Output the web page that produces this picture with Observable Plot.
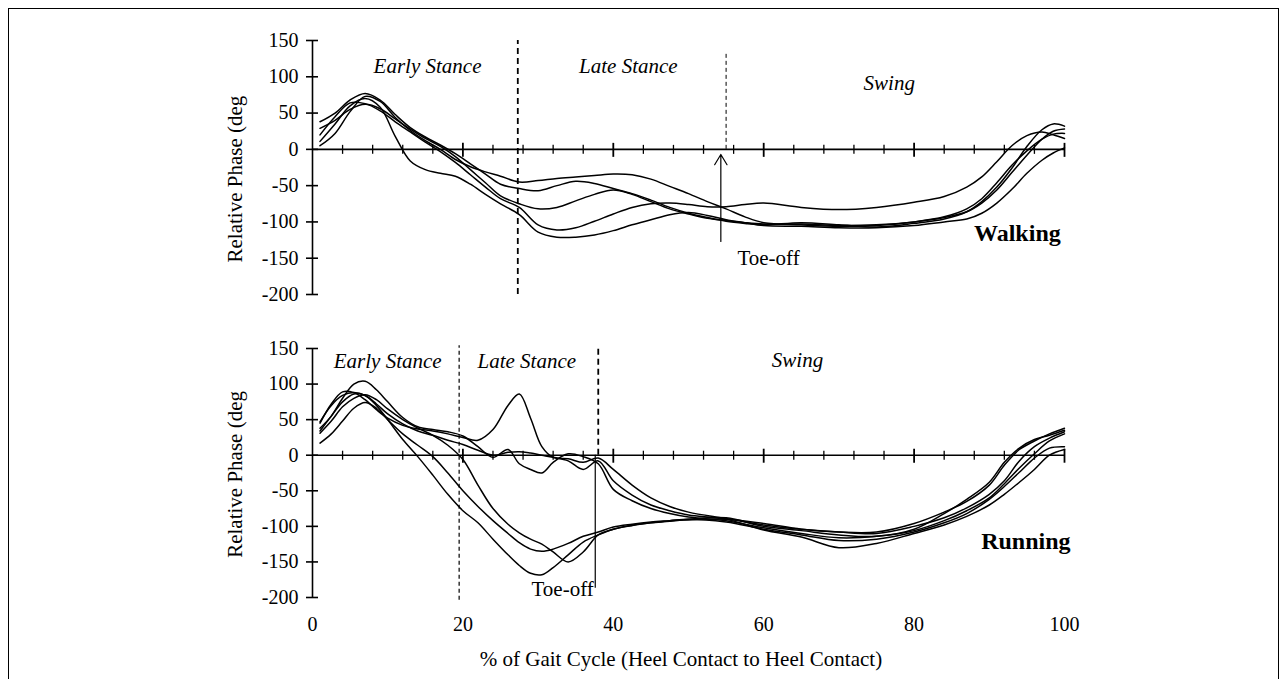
<!DOCTYPE html>
<html>
<head>
<meta charset="utf-8">
<script src="https://cdn.jsdelivr.net/npm/d3@7"></script>
<script src="https://cdn.jsdelivr.net/npm/@observablehq/plot@0.6"></script>
<style>
  html, body { margin: 0; padding: 0; background: #fff; }
  #page { position: relative; width: 1288px; height: 679px; overflow: hidden; }
  #frame { position: absolute; left: 8px; top: 8px; width: 1271px; height: 720px; border: 1.5px solid #000; box-sizing: border-box; }
  .panel { position: absolute; left: 0; }
</style>
</head>
<body>
<div id="page">
  <div id="frame"></div>
  <div id="walk" class="panel" style="top:0px"></div>
  <div id="run" class="panel" style="top:310px"></div>
</div>
<script>
// % of gait cycle at which each walking trial is sampled
const pctWalk = [1,3,5,7,9,11,13,15,17,19,21,23,25,27.5,30,32.5,35,37.5,40,42.5,45,47.5,50,52.5,55,57.5,60,65,70,75,80,84,87,89,91,93,95,97,98.5,100];

// Relative phase (deg), walking trials
const walkA = [5,22,52,73,66,44,26,12,0,-14,-24,-31,-37,-45,-43,-40,-38,-36,-34,-35,-41,-51,-61,-72,-82,-93,-101,-104,-106,-105,-100,-93,-82,-68,-46,-22,-2,14,21,22];
const walkB = [38,50,68,77,68,48,30,17,6,-6,-20,-34,-48,-54,-57,-50,-44,-47,-54,-61,-70,-80,-88,-94,-99,-102,-104,-101,-104,-107,-102,-96,-86,-72,-52,-26,4,27,35,32];
const walkC = [29,40,55,62,56,42,28,15,4,-10,-28,-46,-64,-75,-82,-80,-71,-62,-56,-62,-72,-82,-89,-95,-98,-101,-103,-103,-105,-104,-100,-94,-86,-74,-56,-32,-8,14,25,28];
const walkD = [20,45,64,63,53,38,24,10,-3,-18,-35,-52,-68,-80,-104,-111,-108,-99,-89,-80,-75,-74,-76,-79,-79,-76,-74,-80,-83,-80,-73,-65,-52,-38,-17,5,19,24,20,15];
const walkE = [11,35,60,70,58,18,-16,-28,-33,-37,-48,-62,-75,-90,-114,-121,-121,-118,-112,-104,-97,-90,-87,-91,-97,-101,-105,-106,-108,-108,-105,-100,-96,-88,-74,-55,-33,-15,-5,2];

// % of gait cycle at which each running trial is sampled
const pctRun = [1,2.5,4,5.5,7,8.5,10,12,14,16,18,20,22,24,26,27.5,29,30.5,32,34,36,38,40,42.5,45,47.5,50,55,60,65,70,75,80,84,87,90,92,94,96,98,100];

// Relative phase (deg), running trials
const runA = [45,72,89,88,78,64,52,42,37,34,30,25,21,36,70,86,52,12,-3,-5,-10,-4,-20,-42,-60,-72,-80,-89,-98,-104,-108,-110,-100,-88,-74,-55,-36,-8,12,24,33];
const runB = [38,55,80,100,104,92,75,53,40,36,33,27,12,-3,8,-12,-20,-25,-10,2,-2,-12,-48,-64,-75,-82,-87,-92,-102,-110,-116,-114,-106,-92,-78,-60,-40,-18,2,20,30];
const runC = [47,70,84,88,84,72,58,44,34,28,21,15,7,0,4,5,3,0,-3,-8,-20,-8,-36,-56,-70,-78,-84,-90,-105,-115,-130,-124,-110,-98,-86,-70,-55,-38,-20,0,8];
const runD = [34,55,75,86,84,70,50,22,-2,-28,-55,-78,-95,-118,-140,-155,-166,-168,-158,-140,-122,-112,-104,-99,-95,-93,-90,-88,-100,-106,-112,-114,-104,-82,-62,-38,-10,10,22,28,35];
const runE = [17,30,48,66,74,66,50,30,14,-2,-25,-50,-72,-92,-110,-123,-132,-135,-132,-124,-114,-108,-101,-97,-94,-92,-90,-94,-104,-112,-120,-118,-108,-95,-82,-62,-44,-24,-4,10,12];
const runF = [31,48,68,80,85,78,65,50,38,28,14,-6,-42,-75,-97,-109,-118,-125,-136,-150,-136,-112,-104,-98,-95,-92,-91,-90,-96,-104,-108,-108,-96,-80,-65,-42,-14,8,20,30,38];

// Axis ticks and labels
const yTicks = [150, 100, 50, 0, -50, -100, -150, -200];
const xTickLabels = [0, 20, 40, 60, 80, 100];
const minorTicks = [4,8,12,16,24,28,32,36,44,48,52,56,64,68,72,76,84,88,92,96];
const majorTicks = [20, 40, 60, 80, 100];
const yTitle = "Relative Phase (deg";
const xTitle = "% of Gait Cycle (Heel Contact to Heel Contact)";

// Phase boundaries (% of gait cycle)
const walkEarlyEnd = 27.3, walkToeOffDash = 55, walkToeOff = 54.3;
const runEarlyEnd = 19.5, runToeOffDash = 38, runToeOff = 37.6;

function toRows(pct, series) {
  return series.flatMap((ys, k) => ys.map((y, i) => ({trial: k, pct: pct[i], phase: y})));
}

const serif = '"Liberation Serif", "Times New Roman", Times, serif';

function gaitPanel({rows, height, marginTop, marginBottom, yTitleAt, extra}) {
  return Plot.plot({
    width: 1288,
    height,
    marginLeft: 312,
    marginRight: 224,
    marginTop,
    marginBottom,
    x: {domain: [0, 100], axis: null},
    y: {domain: [-200, 150], axis: null},
    style: {fontFamily: serif, fontSize: "21px", color: "#000", background: "transparent", overflow: "visible"},
    marks: [
      // axis lines
      Plot.ruleX([0], {y1: -200, y2: 150, stroke: "#000", strokeWidth: 1.6}),
      Plot.ruleY([0], {stroke: "#000", strokeWidth: 1.6}),
      // y ticks crossing the vertical axis
      Plot.ruleY(yTicks, {y: d => d, x1: () => 0, x2: () => 0, insetLeft: -6, insetRight: -6, stroke: "#000", strokeWidth: 1.6}),
      // x ticks on the zero line
      Plot.ruleX(minorTicks, {x: d => d, y1: () => 0, y2: () => 0, insetTop: -4, insetBottom: -5, stroke: "#000", strokeWidth: 1.3}),
      Plot.ruleX(majorTicks, {x: d => d, y1: () => 0, y2: () => 0, insetTop: -6, insetBottom: -8, stroke: "#000", strokeWidth: 1.8}),
      // y tick labels and axis title
      Plot.text(yTicks, {y: d => d, text: d => String(d), frameAnchor: "left", dx: -14, textAnchor: "end", fontSize: 20, fill: "#000"}),
      Plot.text([yTitle], {text: d => d, frameAnchor: "left", y: () => yTitleAt, dx: -77, rotate: -90, textAnchor: "middle", fontSize: 21, fill: "#000"}),
      ...extra,
      Plot.line(rows, {x: "pct", y: "phase", z: "trial", curve: "catmull-rom", stroke: "#000", strokeWidth: 1.5})
    ]
  });
}

const walkRows = toRows(pctWalk, [walkA, walkB, walkC, walkD, walkE]);
const runRows = toRows(pctRun, [runA, runB, runC, runD, runE, runF]);

const walkPlot = gaitPanel({
  rows: walkRows,
  height: 310,
  marginTop: 40,
  marginBottom: 16,
  yTitleAt: -41,
  extra: [
    Plot.ruleX([walkEarlyEnd], {y1: -200, y2: 150, stroke: "#000", strokeWidth: 1.8, strokeDasharray: "6,4"}),
    Plot.ruleX([walkToeOffDash], {y1: 0, y2: 132, stroke: "#000", strokeWidth: 1, strokeDasharray: "4,3"}),
    Plot.arrow([walkToeOff], {x1: d => d, x2: d => d, y1: () => -127, y2: () => -7, headLength: 15, headAngle: 62, stroke: "#000", strokeWidth: 1.2}),
    Plot.text(["Early Stance"], {text: d => d, x: () => 15.3, y: () => 114, fontStyle: "italic", fontSize: 21, fill: "#000"}),
    Plot.text(["Late Stance"], {text: d => d, x: () => 42, y: () => 114, fontStyle: "italic", fontSize: 21, fill: "#000"}),
    Plot.text(["Swing"], {text: d => d, x: () => 76.7, y: () => 91, fontStyle: "italic", fontSize: 21, fill: "#000"}),
    Plot.text(["Toe-off"], {text: d => d, x: () => 56.5, y: () => -150, textAnchor: "start", fontSize: 21, fill: "#000"}),
    Plot.text(["Walking"], {text: d => d, x: () => 99.5, y: () => -116, textAnchor: "end", fontWeight: "bold", fontSize: 24, fill: "#000"})
  ]
});

const runPlot = gaitPanel({
  rows: runRows,
  height: 369,
  marginTop: 38,
  marginBottom: 82,
  yTitleAt: -27,
  extra: [
    Plot.ruleX([runEarlyEnd], {y1: -204, y2: 154, stroke: "#000", strokeWidth: 1.2, strokeDasharray: "4,3"}),
    Plot.ruleX([runToeOffDash], {y1: 0, y2: 150, stroke: "#000", strokeWidth: 1.8, strokeDasharray: "6,4"}),
    Plot.ruleX([runToeOff], {y1: -187, y2: 0, stroke: "#000", strokeWidth: 1.2}),
    Plot.text(["Early Stance"], {text: d => d, x: () => 10, y: () => 132, fontStyle: "italic", fontSize: 21, fill: "#000"}),
    Plot.text(["Late Stance"], {text: d => d, x: () => 28.5, y: () => 132, fontStyle: "italic", fontSize: 21, fill: "#000"}),
    Plot.text(["Swing"], {text: d => d, x: () => 64.5, y: () => 134, fontStyle: "italic", fontSize: 21, fill: "#000"}),
    Plot.text(["Toe-off"], {text: d => d, x: () => 37.4, y: () => -188, textAnchor: "end", fontSize: 21, fill: "#000"}),
    Plot.text(["Running"], {text: d => d, x: () => 100.8, y: () => -121, textAnchor: "end", fontWeight: "bold", fontSize: 24, fill: "#000"}),
    // x tick labels and title below the running panel
    Plot.text(xTickLabels, {x: d => d, text: d => String(d), frameAnchor: "bottom", dy: 33, fontSize: 20, fill: "#000"}),
    Plot.text([xTitle], {text: d => d, x: () => 49, frameAnchor: "bottom", dy: 68, fontSize: 21, fill: "#000"})
  ]
});

document.getElementById("walk").append(walkPlot);
document.getElementById("run").append(runPlot);
</script>
</body>
</html>
